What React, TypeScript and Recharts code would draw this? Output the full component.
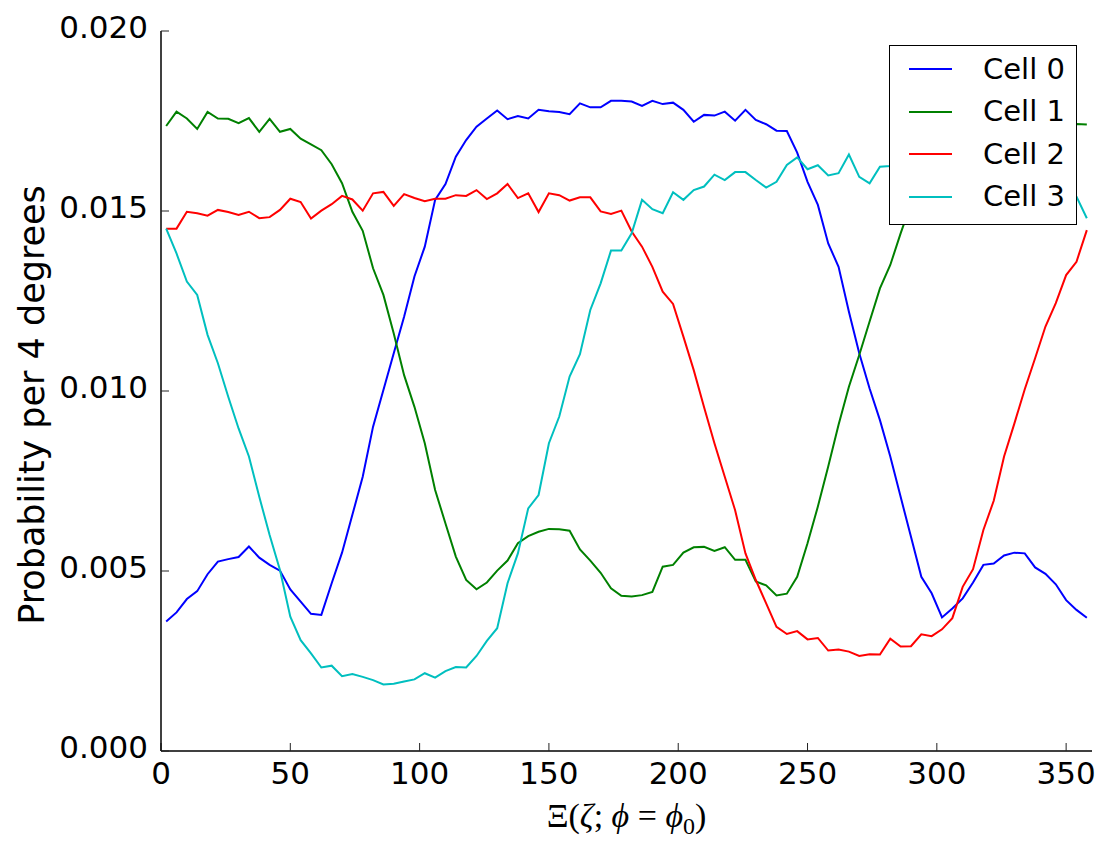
import React from "react";
import { LineChart, Line, XAxis, YAxis, Legend, Label } from "recharts";

// bin centres, 4 degree bins
const angles = [
  2, 6, 10, 14, 18, 22, 26, 30, 34, 38, 42, 46, 50, 54, 58, 62, 66, 70, 74, 78,
  82, 86, 90, 94, 98, 102, 106, 110, 114, 118, 122, 126, 130, 134, 138, 142, 146, 150, 154, 158,
  162, 166, 170, 174, 178, 182, 186, 190, 194, 198, 202, 206, 210, 214, 218, 222, 226, 230, 234, 238,
  242, 246, 250, 254, 258, 262, 266, 270, 274, 278, 282, 286, 290, 294, 298, 302, 306, 310, 314, 318,
  322, 326, 330, 334, 338, 342, 346, 350, 354, 358,
];

const cell0 = [
  0.0036, 0.00385, 0.00422, 0.00444, 0.00491, 0.00526, 0.00533, 0.00539, 0.00568, 0.00537,
  0.00517, 0.00501, 0.00449, 0.00415, 0.00381, 0.00378, 0.00466, 0.00551, 0.00656, 0.00762,
  0.00901, 0.01003, 0.01105, 0.01206, 0.01318, 0.01401, 0.01531, 0.01575, 0.01651, 0.01697,
  0.01734, 0.01757, 0.01779, 0.01755, 0.01764, 0.01757, 0.01781, 0.01777, 0.01775, 0.01769,
  0.01799, 0.01788, 0.01788, 0.01806, 0.01806, 0.01804, 0.01792, 0.01806, 0.01797, 0.01801,
  0.01781, 0.01748, 0.01767, 0.01765, 0.01776, 0.01751, 0.01781, 0.01753, 0.01741, 0.01723,
  0.01722, 0.01662, 0.01581, 0.01517, 0.0141, 0.01345, 0.0122, 0.01105, 0.01007, 0.00919,
  0.00818, 0.00706, 0.00595, 0.00484, 0.00438, 0.00371, 0.00396, 0.00424, 0.00468, 0.00517,
  0.00521, 0.00543, 0.00551, 0.00549, 0.0051, 0.00492, 0.00463, 0.00419, 0.00392, 0.0037,
];

const cell1 = [
  0.01736, 0.01776, 0.01757, 0.01728, 0.01775, 0.01757, 0.01756, 0.01744, 0.01758, 0.0172,
  0.01756, 0.0172, 0.01728, 0.01701, 0.01685, 0.01669, 0.0163, 0.01577, 0.01498, 0.01445,
  0.01341, 0.01267, 0.0116, 0.01044, 0.00956, 0.00855, 0.00725, 0.00632, 0.0054, 0.00475,
  0.00449, 0.00468, 0.00501, 0.00529, 0.00577, 0.00597, 0.00609, 0.00617, 0.00616, 0.00612,
  0.0056, 0.00529, 0.00495, 0.00452, 0.00431, 0.00429, 0.00433, 0.00442, 0.00512, 0.00517,
  0.00551, 0.00566, 0.00567, 0.00556, 0.00566, 0.00531, 0.00531, 0.00471, 0.0046, 0.00432,
  0.00437, 0.00484, 0.00577, 0.00679, 0.0079, 0.00906, 0.01012, 0.011, 0.01193, 0.01285,
  0.0135, 0.01438, 0.0152, 0.016, 0.0166, 0.017, 0.0173, 0.0174, 0.0175, 0.0176,
  0.0174, 0.0175, 0.0177, 0.0175, 0.0174, 0.0176, 0.0175, 0.0174, 0.01742, 0.0174,
];

const cell2 = [
  0.01451, 0.01451, 0.01498, 0.01494, 0.01487, 0.01503, 0.01497, 0.01489, 0.01498, 0.0148,
  0.01483, 0.01503, 0.01534, 0.01525, 0.01479, 0.01501, 0.01519, 0.01542, 0.01532, 0.01501,
  0.01549, 0.01553, 0.01514, 0.01547, 0.01536, 0.01527, 0.01534, 0.01534, 0.01544, 0.01542,
  0.01558, 0.01533, 0.01549, 0.01575, 0.01536, 0.01549, 0.01497, 0.01549, 0.01544, 0.01529,
  0.01538, 0.01538, 0.01499, 0.01492, 0.01501, 0.01443, 0.01401, 0.01345, 0.01276, 0.01242,
  0.01151, 0.01058, 0.00955, 0.00855, 0.00762, 0.00669, 0.00549, 0.00475, 0.0041, 0.00345,
  0.00325, 0.00333, 0.0031, 0.00314, 0.00279, 0.00282, 0.00276, 0.00264, 0.00269, 0.00268,
  0.00312, 0.0029, 0.00291, 0.00324, 0.00319, 0.00338, 0.00369, 0.00456, 0.00505, 0.00614,
  0.00695, 0.00818, 0.0091, 0.01005, 0.01091, 0.01179, 0.01244, 0.01322, 0.01359, 0.01447,
];

const cell3 = [
  0.01451, 0.01382, 0.01304, 0.01267, 0.01156, 0.01077, 0.00984, 0.00896, 0.00818, 0.00706,
  0.006, 0.00503, 0.00373, 0.00308, 0.00271, 0.00232, 0.00237, 0.00208, 0.00214, 0.00206,
  0.00197, 0.00185, 0.00187, 0.00193, 0.00199, 0.00216, 0.00204, 0.00222, 0.00233, 0.00232,
  0.00264, 0.00306, 0.00341, 0.00466, 0.00549, 0.00674, 0.00711, 0.00855, 0.00929, 0.0104,
  0.01102, 0.01225, 0.01299, 0.0139, 0.0139, 0.01438, 0.01531, 0.01505, 0.01494, 0.01552,
  0.01531, 0.01558, 0.01568, 0.01601, 0.01586, 0.01608, 0.01608, 0.01586, 0.01565, 0.01581,
  0.01628, 0.01649, 0.01616, 0.01627, 0.01599, 0.01605, 0.01657, 0.01595, 0.01577, 0.01623,
  0.01625, 0.0163, 0.0161, 0.0164, 0.0162, 0.0165, 0.016, 0.0163, 0.0161, 0.0158,
  0.0162, 0.016, 0.0157, 0.016, 0.0158, 0.0161, 0.0159, 0.0156, 0.0154, 0.0148,
];

const xTicks = [0, 50, 100, 150, 200, 250, 300, 350];
const yTicks = [0, 0.005, 0.01, 0.015, 0.02];

const series = [
  { key: "cell0", name: "Cell 0", color: "#0000ff" },
  { key: "cell1", name: "Cell 1", color: "#008000" },
  { key: "cell2", name: "Cell 2", color: "#ff0000" },
  { key: "cell3", name: "Cell 3", color: "#00bfbf" },
];

const data = angles.map((angle, i) => ({
  angle,
  cell0: cell0[i],
  cell1: cell1[i],
  cell2: cell2[i],
  cell3: cell3[i],
}));

const SANS = "DejaVu Sans, sans-serif";
const SERIF = "Liberation Serif, serif";

const XTick = ({ x, y, payload }: any) => (
  <text x={x} y={y + 41} textAnchor="middle" fontFamily={SANS} fontSize={31} fill="#000">
    {payload.value}
  </text>
);

const YTick = ({ x, y, payload }: any) => (
  <text x={x - 21} y={y + 7.3} textAnchor="end" fontFamily={SANS} fontSize={31} fill="#000">
    {Number(payload.value).toFixed(3)}
  </text>
);

const XTitle = ({ viewBox }: any) => {
  const cx = viewBox.x + viewBox.width / 2;
  const cy = viewBox.y + 76;
  return (
    <text x={cx} y={cy} textAnchor="middle" fontFamily={SERIF} fontSize={34} fill="#000">
      Ξ(<tspan fontStyle="italic">ζ</tspan>;<tspan fontStyle="italic"> ϕ</tspan> = <tspan fontStyle="italic">ϕ</tspan>
      <tspan fontSize={24} dy={7}>0</tspan>
      <tspan dy={-7}>)</tspan>
    </text>
  );
};

const YTitle = () => (
  <text
    x={36}
    y={397}
    transform="rotate(-90, 36, 397)"
    textAnchor="middle"
    fontFamily={SANS}
    fontSize={35}
    fill="#000"
  >
    Probability per 4 degrees
  </text>
);

const LegendBox = ({ payload }: any) => (
  <div
    style={{
      width: 188,
      height: 180,
      boxSizing: "border-box",
      border: "1.5px solid #000",
      background: "#fff",
      paddingTop: 2,
      fontFamily: SANS,
      fontSize: 29,
      color: "#000",
    }}
  >
    {(payload || []).map((p: any) => (
      <div key={p.value} style={{ display: "flex", alignItems: "center", height: 42.5 }}>
        <svg width={43} height={4} style={{ marginLeft: 19, marginRight: 31 }}>
          <line x1={0} y1={2} x2={43} y2={2} stroke={p.color} strokeWidth={2} />
        </svg>
        <span style={{ lineHeight: 1 }}>{p.value}</span>
      </div>
    ))}
  </div>
);

const axisLine = { stroke: "#000", strokeWidth: 1.5 };
const tickLine = { stroke: "#222", strokeWidth: 1 };

export default function App() {
  return (
    <LineChart
      width={1100}
      height={840}
      data={data}
      margin={{ top: 23, right: 16, bottom: 0, left: 0 }}
      style={{ background: "#fff" }}
    >
      <XAxis
        dataKey="angle"
        type="number"
        domain={[0, 360]}
        ticks={xTicks}
        interval={0}
        height={97}
        tickSize={-8}
        tickMargin={0}
        axisLine={axisLine}
        tickLine={tickLine}
        tick={<XTick />}
      >
        <Label content={<XTitle />} />
      </XAxis>
      <XAxis
        xAxisId="top"
        orientation="top"
        type="number"
        domain={[0, 360]}
        ticks={xTicks}
        interval={0}
        height={0}
        tickSize={-8}
        axisLine={axisLine}
        tickLine={tickLine}
        tick={false}
      />
      <YAxis
        type="number"
        domain={[0, 0.02]}
        ticks={yTicks}
        interval={0}
        width={153}
        tickSize={-8}
        tickMargin={0}
        axisLine={axisLine}
        tickLine={tickLine}
        tick={<YTick />}
      >
        <Label content={<YTitle />} />
      </YAxis>
      <YAxis
        yAxisId="right"
        orientation="right"
        type="number"
        domain={[0, 0.02]}
        ticks={yTicks}
        interval={0}
        width={0}
        tickSize={-8}
        axisLine={axisLine}
        tickLine={tickLine}
        tick={false}
      />
      {series.map((s) => (
        <Line
          key={s.key}
          type="linear"
          dataKey={s.key}
          name={s.name}
          stroke={s.color}
          strokeWidth={2}
          dot={false}
          activeDot={false}
          isAnimationActive={false}
        />
      ))}
      <Legend
        layout="vertical"
        align="center"
        verticalAlign="middle"
        content={<LegendBox />}
        wrapperStyle={{ top: 37, left: 881, width: 188, height: 180 }}
      />
    </LineChart>
  );
}
